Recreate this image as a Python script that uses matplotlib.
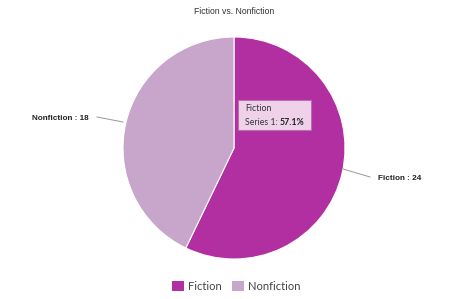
import matplotlib
matplotlib.use("Agg")
import matplotlib.pyplot as plt
from matplotlib.patches import FancyBboxPatch, Rectangle
import numpy as np

categories = ["Fiction", "Nonfiction"]
values = [24, 18]
colors = ["#B12FA0", "#C8A5CA"]
title = "Fiction vs. Nonfiction"

W, H = 460, 299
fig = plt.figure(figsize=(W / 100, H / 100), dpi=100)
ax = fig.add_axes([0, 0, 1, 1])

cx, cy, r = 234, H - 148, 111
wedges, _ = ax.pie(values, colors=colors, startangle=90, counterclock=False,
                   radius=r, center=(cx, cy), frame=True,
                   wedgeprops=dict(edgecolor="white", linewidth=0.8))
ax.set_xlim(0, W)
ax.set_ylim(0, H)
ax.set_aspect("equal")
ax.axis("off")

fig.text(234 / W, 1 - 11 / H, title, ha="center", va="center", fontsize=6.2,
         color="#333333", family="Liberation Sans")

# data labels with leader lines
label_specs = [
    ((343, 169), (370, 177), (378, 178), "left"),
    ((123, 122), (97, 117), (89, 118), "right"),
]
for (cat, val), (p0, p1, tp, ha) in zip(zip(categories, values), label_specs):
    ax.plot([p0[0], p1[0]], [H - p0[1], H - p1[1]], color="#999999", lw=0.7)
    ax.text(tp[0], H - tp[1], f"{cat} : {val}", ha=ha, va="center",
            fontsize=5.9, fontweight="bold", color="#222222", family="Liberation Sans")

# tooltip
pct = values[0] / sum(values) * 100
box = FancyBboxPatch((238, H - 130), 73, 30, boxstyle="square,pad=0",
                     facecolor="#F3DCEF", edgecolor="#B870B0", lw=0.8, alpha=0.95)
ax.add_patch(box)
tf = "Lato"
ax.text(245, H - 108, categories[0], ha="left", va="center", fontsize=6.3, color="#333333", family=tf)
t1 = ax.text(245, H - 122, "Series 1: ", ha="left", va="center", fontsize=6.3,
             color="#333333", family=tf)
fig.canvas.draw()
bb = t1.get_window_extent(renderer=fig.canvas.get_renderer())
x_end = ax.transData.inverted().transform((bb.x1, bb.y0))[0]
ax.text(x_end, H - 122, f"{pct:.1f}%", ha="left", va="center", fontsize=6.3,
        fontweight="bold", color="#222222", family=tf)

# legend
leg_items = [(172, categories[0], colors[0]), (232, categories[1], colors[1])]
for x, lab, c in leg_items:
    ax.add_patch(Rectangle((x, H - 291), 12, 10, facecolor=c, edgecolor="none"))
    ax.text(x + 16, H - 286, lab, ha="left", va="center", fontsize=8.0,
            color="#444444", family="Lato")

fig.savefig("out.png", dpi=100)
